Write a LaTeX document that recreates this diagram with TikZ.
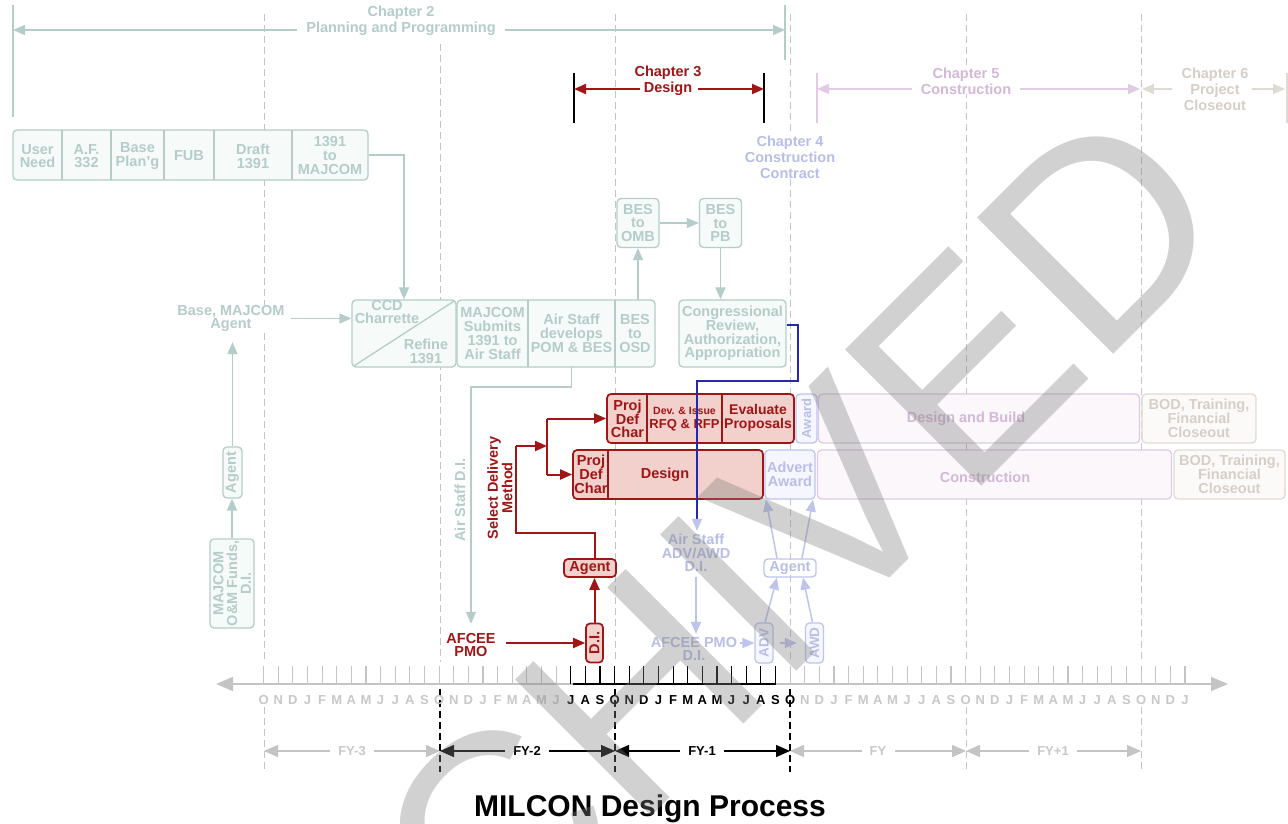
\documentclass[tikz,border=0pt]{standalone}
\usepackage{fontspec}
\setmainfont{Liberation Sans}
\usetikzlibrary{arrows.meta,calc}
\definecolor{tealc}{RGB}{180,205,200}
\definecolor{tealf}{RGB}{246,250,249}
\definecolor{redc}{RGB}{160,22,22}
\definecolor{redf}{RGB}{242,208,203}
\definecolor{lavc}{RGB}{190,196,236}
\definecolor{lavt}{RGB}{184,190,232}
\definecolor{lavf}{RGB}{246,247,254}
\definecolor{pinkc}{RGB}{224,202,228}
\definecolor{pinkt}{RGB}{212,184,216}
\definecolor{pinkf}{RGB}{251,247,251}
\definecolor{beigec}{RGB}{224,218,212}
\definecolor{beiget}{RGB}{214,207,200}
\definecolor{beigef}{RGB}{251,250,248}
\definecolor{greyc}{RGB}{196,196,196}
\definecolor{greyt}{RGB}{200,200,200}
\definecolor{bluec}{RGB}{40,40,175}
\definecolor{wmc}{RGB}{128,128,128}
\begin{document}
\begin{tikzpicture}[x=1pt,y=-1pt,
  >={Triangle[length=12pt,width=10pt]},
  lbl/.style={font=\bfseries\fontsize{14.5}{13.7}\selectfont, align=center, inner sep=0pt},
  chap/.style={font=\bfseries\fontsize{14.5}{16}\selectfont, align=center, inner sep=0pt},
  month/.style={font=\bfseries\fontsize{13}{13}\selectfont, inner sep=0pt},
  fylbl/.style={font=\bfseries\fontsize{13}{13}\selectfont, inner sep=0pt},
  boxbase/.style={rounded corners=4pt, line width=1.3pt, inner sep=0pt},
  boxT/.style={boxbase, draw=tealc, fill=tealf},
  boxR/.style={boxbase, draw=redc, fill=redf, line width=1.7pt},
  boxL/.style={boxbase, draw=lavc, fill=lavf},
  boxP/.style={boxbase, draw=pinkc, fill=pinkf},
  boxB/.style={boxbase, draw=beigec, fill=beigef},
  cellnode/.style={inner sep=0pt, align=center},
  tline/.style={draw=tealc, line width=1.5pt},
  rline/.style={draw=redc, line width=2pt},
  lline/.style={draw=lavc, line width=1.5pt},
  kline/.style={draw=black, line width=1.6pt},
  vdash/.style={draw=greyc, line width=1pt, dash pattern=on 7pt off 4pt},
  bdash/.style={draw=black, line width=1.1pt, dash pattern=on 7pt off 4pt},
  wm/.style={font=\fontsize{280}{280}\selectfont, text=wmc, text opacity=0.36, inner sep=0pt, anchor=base west, rotate=45},
]
\fill[white] (0,0) rectangle (1288,824);
\useasboundingbox (0,0) rectangle (1288,824);

% ---------------- dashed year lines ----------------
\draw[vdash] (264,14) -- (264,662);
\draw[vdash] (440,44) -- (440,662);
\draw[vdash] (615,14) -- (615,662);
\draw[vdash] (790,14) -- (790,662);
\draw[vdash] (966,14) -- (966,662);
\draw[vdash] (1141,14) -- (1141,662);
\foreach \x in {264,966,1141} \draw[vdash] (\x,707) -- (\x,772);
\foreach \x in {440,615,790} \draw[bdash] (\x,689) -- (\x,772);

% ---------------- chapter headers ----------------
\coordinate (c2l) at (13,30);
\coordinate (c2r) at (785,30);
\draw[tline] (13,5) -- (13,117);
\draw[tline] (785,5) -- (785,60);
\node[chap, text=tealc] (ch2) at (401,21) {Chapter 2\\Planning and Programming};
\draw[tline,->] (297,30) -- (c2l);
\draw[tline,->] (505,30) -- (c2r);

\coordinate (c3l) at (574,89);
\coordinate (c3r) at (764,89);
\draw[kline] (574,73) -- (574,123);
\draw[kline] (764,73) -- (764,123);
\node[chap, text=redc] (ch3) at (668,81) {Chapter 3\\Design};
\draw[rline,->] (640,89) -- (c3l);
\draw[rline,->] (698,89) -- (c3r);

\coordinate (c5l) at (817,89);
\coordinate (c5r) at (1140,89);
\draw[draw=pinkc, line width=1.5pt] (817,73) -- (817,123);
\node[chap, text=pinkt, fill=white] (ch5) at (966,81) {Chapter 5\\Construction};
\draw[draw=pinkc, line width=1.5pt, ->] (912,89) -- (c5l);
\draw[draw=pinkc, line width=1.5pt, ->] (1020,89) -- (c5r);

\coordinate (c6l) at (1142,89);
\coordinate (c6r) at (1285,89);
\draw[draw=beigec, line width=1.5pt] (1287,73) -- (1287,123);
\node[chap, text=beiget] (ch6) at (1215,89) {Chapter 6\\Project\\Closeout};
\draw[draw=beigec, line width=1.5pt, ->] (1172,89) -- (c6l);
\draw[draw=beigec, line width=1.5pt, ->] (1252,89) -- (c6r);

\node[chap, text=lavt, fill=white, inner sep=1pt] (ch4) at (790,157) {Chapter 4\\Construction\\Contract};

% ---------------- row 1 (teal) ----------------
\node[boxT, minimum width=355pt, minimum height=50pt] (r1) at (190.5,155) {};
\foreach \x in {62,111,164,214,292} \draw[tealc, line width=1.3pt] (\x,130) -- (\x,180);
\node[lbl,text=tealc] (un) at (37.5,156) {User\\Need};
\node[lbl,text=tealc] (af) at (86.5,156) {A.F.\\332};
\node[lbl,text=tealc] (bp) at (137.5,156) {Base\\Plan'g};
\node[lbl,text=tealc] (fub) at (189,156) {FUB};
\node[lbl,text=tealc] (dr) at (253,156) {Draft\\1391};
\node[lbl,text=tealc] (tm) at (330,155.5) {1391\\to\\MAJCOM};

% ---------------- row 2 (teal) ----------------
\node[lbl,text=tealc, fill=white] (basem) at (231,318.5) {Base, MAJCOM\\Agent};
\node[boxT, minimum width=104pt, minimum height=67pt] (ccd) at (404,333.5) {};
\draw[tealc, line width=1.3pt] ($(ccd.south west)+(3,-2)$) -- ($(ccd.north east)+(-3,2)$);
\node[lbl,text=tealc] (ccdt) at (387,312) {CCD\\Charrette};
\node[lbl,text=tealc] (refi) at (426,351) {Refine\\1391};
\node[boxT, minimum width=198pt, minimum height=67pt] (g2) at (556,333.5) {};
\draw[tealc, line width=1.3pt] (528,300) -- (528,367);
\draw[tealc, line width=1.3pt] (615,300) -- (615,367);
\node[cellnode, lbl, text=tealc, minimum width=71pt, minimum height=67pt] (msub) at (492.5,333.5) {MAJCOM\\Submits\\1391 to\\Air Staff};
\node[cellnode, lbl, text=tealc, minimum width=87pt, minimum height=67pt] (pom) at (571.5,333.5) {Air Staff\\develops\\POM \& BES};
\node[cellnode, lbl, text=tealc, minimum width=40pt, minimum height=67pt] (osd) at (635,333.5) {BES\\to\\OSD};
\node[boxT, lbl, text=tealc, minimum width=42pt, minimum height=49pt] (omb) at (638,223) {BES\\to\\OMB};
\node[boxT, lbl, text=tealc, minimum width=42pt, minimum height=49pt] (pb) at (720.5,223) {BES\\to\\PB};
\node[boxT, lbl, text=tealc, minimum width=107pt, minimum height=67pt] (cong) at (732.5,333.5) {Congressional\\Review,\\Authorization,\\Appropriation};

\draw[tline,->] (r1.east) -| (ccd.north);
\draw[tline,->,shorten <=6pt] (basem.east) -- (basem.east -| ccd.west);
\draw[tline,->] (omb.south |- osd.north) -- (omb.south);
\draw[tline,->] (omb.east) -- (pb.west);
\draw[tline,->] (pb.south) -- (pb.south |- cong.north);

% ---------------- left teal column ----------------
\node[boxT, minimum width=44pt, minimum height=89pt] (mom) at (232,583.5) {};
\node[lbl,text=tealc, rotate=90] (momt) at (mom) {MAJCOM\\O\&M Funds,\\D.I.};
\node[boxT, minimum width=19pt, minimum height=51pt] (tag) at (232.5,472.5) {};
\node[lbl,text=tealc, rotate=90] (tagt) at (tag) {Agent};
\draw[tline,->] (mom.north) -- (mom.north |- tag.south);
\draw[tline,->,shorten >=10pt] (tag.north) -- (tag.north |- basem.south);

% Air Staff D.I.
\node[lbl,text=tealc, rotate=90] (asdi) at (460,500) {Air Staff D.I.};
\node[lbl,text=redc] (afcee) at (471,645) {AFCEE\\PMO};
\coordinate (asdk) at (471,387);
\draw[tline,->,shorten >=9pt] (pom.south) |- (asdk) -- (asdk |- afcee.north);

% ---------------- red design boxes ----------------
\node[boxR, minimum width=187pt, minimum height=49pt] (rtop) at (700.5,418.5) {};
\draw[redc, line width=1.5pt] (647,394) -- (647,443);
\draw[redc, line width=1.5pt] (722,394) -- (722,443);
\node[lbl,text=redc] (pdc1) at (627.5,419) {Proj\\Def\\Char};
\node[lbl,text=redc] (rfq) at (684.5,419) {{\fontsize{10.5}{12}\selectfont Dev. \& Issue}\\{\fontsize{13}{12}\selectfont RFQ \& RFP}};
\node[lbl,text=redc, font=\bfseries\fontsize{14}{13.5}\selectfont] (evp) at (758,418) {Evaluate\\Proposals};

\node[boxR, minimum width=190pt, minimum height=49pt] (rbot) at (668,474.5) {};
\draw[redc, line width=1.5pt] (608,450) -- (608,499);
\node[lbl,text=redc] (pdc2) at (591,474.5) {Proj\\Def\\Char};
\node[lbl,text=redc] (dsg) at (665,474.5) {Design};

% right-hand boxes
\node[boxL, minimum width=21pt, minimum height=49pt] (awb) at (806.5,418.5) {};
\node[lbl,text=lavt, rotate=90, font=\bfseries\fontsize{13}{13}\selectfont] (awbt) at (awb) {Award};
\node[boxP, minimum width=321pt, minimum height=49pt] (db) at (979,418.5) {};
\node[lbl,text=pinkt] (dbt) at (966,419) {Design and Build};
\node[boxB, lbl, text=beiget, minimum width=114pt, minimum height=49pt] (bod1) at (1199,418.5) {BOD, Training,\\Financial\\Closeout};

\node[boxL, lbl, text=lavt, minimum width=50pt, minimum height=49pt] (advaw) at (790,474.5) {Advert\\Award};
\node[boxP, minimum width=354pt, minimum height=49pt] (cons) at (994.5,474.5) {};
\node[lbl,text=pinkt] (const) at (985,477) {Construction};
\node[boxB, lbl, text=beiget, minimum width=111pt, minimum height=49pt] (bod2) at (1229.5,474.5) {BOD, Training,\\Financial\\Closeout};

% ---------------- red delivery flow ----------------
\node[boxR, lbl, text=redc, minimum width=52pt, minimum height=18pt] (ragent) at (590,568) {Agent};
\node[boxR, minimum width=17pt, minimum height=39pt] (rdi) at (594.5,643) {};
\node[lbl,text=redc, rotate=90] (rdit) at (rdi) {D.I.};
\node[lbl,text=redc, rotate=90, font=\bfseries\fontsize{14.5}{13.5}\selectfont] (sel) at (500,488) {Select Delivery\\Method};

\draw[rline,->,shorten <=10pt] (afcee.east |- rdi.west) -- (rdi.west);
\draw[rline,->] (rdi.north) -- (rdi.north |- ragent.south);
\coordinate (sd1) at (516,533);
\coordinate (sd2) at (516,446);
\coordinate (sj) at (547,446);
\coordinate (sjt) at (547,418.5);
\coordinate (sjb) at (547,474.5);
\draw[rline] (rdi.north |- ragent.north) |- (sd1) -- (sd2);
\draw[rline,->] (sd2) -- (sj);
\draw[rline] (sjt) -- (sjb);
\draw[rline,->] (sjt) -- (rtop.west |- sjt);
\draw[rline,->] (sjb) -- (rbot.west |- sjb);

% ---------------- lavender contract flow ----------------
\node[lbl,text=lavt] (asadv) at (696,553) {Air Staff\\ADV/AWD\\D.I.};
\node[lbl,text=lavt] (afpmo) at (694,649) {AFCEE PMO\\D.I.};
\node[boxL, minimum width=18pt, minimum height=40pt] (adv) at (764,643) {};
\node[lbl,text=lavt, rotate=90, font=\bfseries\fontsize{13.5}{13.5}\selectfont] (advt) at (adv) {ADV};
\node[boxL, minimum width=18pt, minimum height=40pt] (awd) at (814.5,643) {};
\node[lbl,text=lavt, rotate=90, font=\bfseries\fontsize{13.5}{13.5}\selectfont] (awdt) at (awd) {AWD};
\node[boxbase, draw=lavc, lbl, text=lavt, minimum width=52pt, minimum height=18pt] (lag) at (790,568) {Agent};

\draw[bluec, line width=1.3pt, -{Triangle[length=12pt,width=10pt,color=lavc]}, shorten >=3pt]
  (cong.east |- 0,325) -- (798,325) -- (798,381) -- (697,381) -- (asadv.north -| 697,0);
\draw[lline,->,shorten <=5pt,shorten >=3pt] (asadv.south) -- (asadv.south |- afpmo.north);
\draw[lline,->,shorten <=3pt] (afpmo.east |- adv.west) -- (adv.west);
\draw[lline,->,shorten <=6pt,shorten >=8pt] (adv.east) -- (awd.west);
\draw[lline,->] ($(adv.north)+(1,0)$) -- ($(lag.south)+(-13,0)$);
\draw[lline,->] ($(awd.north)+(-2,0)$) -- ($(lag.south)+(13,0)$);
\draw[lline,->] ($(lag.north)+(-13,0)$) -- ($(advaw.south)+(-24,0)$);
\draw[lline,->] ($(lag.north)+(12,0)$) -- ($(advaw.south)+(23,0)$);

% ---------------- timeline ----------------
\coordinate (axl) at (216,684);
\coordinate (axr) at (1228,684);
\draw[draw=greyc, line width=1.6pt, {Triangle[length=17pt,width=14pt]}-{Triangle[length=17pt,width=14pt]}] (axl) -- (axr);
\draw[black, line width=1.4pt] (573,684) -- (776,684);
\foreach \m [count=\k from 0] in {O,N,D,J,F,M,A,M,J,J,A,S,O,N,D,J,F,M,A,M,J,J,A,S,O,N,D,J,F,M,A,M,J,J,A,S,O,N,D,J,F,M,A,M,J,J,A,S,O,N,D,J,F,M,A,M,J,J,A,S,O,N,D,J}{
  \pgfmathsetmacro\xx{263.6+14.625*\k}
  \ifnum\k<21 \def\cc{greyt}\else\ifnum\k>36 \def\cc{greyt}\else\def\cc{black}\fi\fi
  \node[month, text=\cc] (m\k) at (\xx,700) {\m};
  \ifnum\k<21 \def\tc{greyc}\else\ifnum\k>35 \def\tc{greyc}\else\def\tc{black}\fi\fi
  \draw[draw=\tc, line width=1.1pt] (\xx,666) -- (\xx,684);
}

% fiscal years
\coordinate (fy0) at (264,751);
\coordinate (fy1) at (440,751);
\coordinate (fy2) at (615,751);
\coordinate (fy3) at (790,751);
\coordinate (fy4) at (966,751);
\coordinate (fy5) at (1141,751);
\tikzset{fyg/.style={draw=greyc, line width=1.4pt, -{Triangle[length=14pt,width=12pt]}},
         fyk/.style={draw=black, line width=1.4pt, -{Triangle[length=14pt,width=12pt]}}}
\node[fylbl, text=greyt] (lfy3) at (352,751) {FY-3};
\draw[fyg] ([xshift=-8pt]lfy3.west) -- (fy0);
\draw[fyg] ([xshift=8pt]lfy3.east) -- (fy1);
\node[fylbl, text=black] (lfy2) at (527,751) {FY-2};
\draw[fyk] ([xshift=-8pt]lfy2.west) -- (fy1);
\draw[fyk] ([xshift=8pt]lfy2.east) -- (fy2);
\node[fylbl, text=black] (lfy1) at (702,751) {FY-1};
\draw[fyk] ([xshift=-8pt]lfy1.west) -- (fy2);
\draw[fyk] ([xshift=8pt]lfy1.east) -- (fy3);
\node[fylbl, text=greyt] (lfy) at (878,751) {FY};
\draw[fyg] ([xshift=-8pt]lfy.west) -- (fy3);
\draw[fyg] ([xshift=8pt]lfy.east) -- (fy4);
\node[fylbl, text=greyt] (lfyp) at (1053,751) {FY+1};
\draw[fyg] ([xshift=-8pt]lfyp.west) -- (fy4);
\draw[fyg] ([xshift=8pt]lfyp.east) -- (fy5);

% title
\node[font=\bfseries\fontsize{30}{30}\selectfont, inner sep=0pt] (title) at (650,809) {MILCON Design Process};

% ---------------- ARCHIVED watermark (A and R fall below the page) ----------------
\node[wm] (wC) at (491.9,976.1) {C};
\node[wm] (wH) at (634.9,833.1) {H};
\node[wm] (wI) at (777.9,690.1) {I};
\node[wm] (wV) at (832.9,635.1) {V};
\node[wm] (wE) at (965,503) {E};
\node[wm] (wD) at (1097.1,370.9) {D};
\end{tikzpicture}
\end{document}
